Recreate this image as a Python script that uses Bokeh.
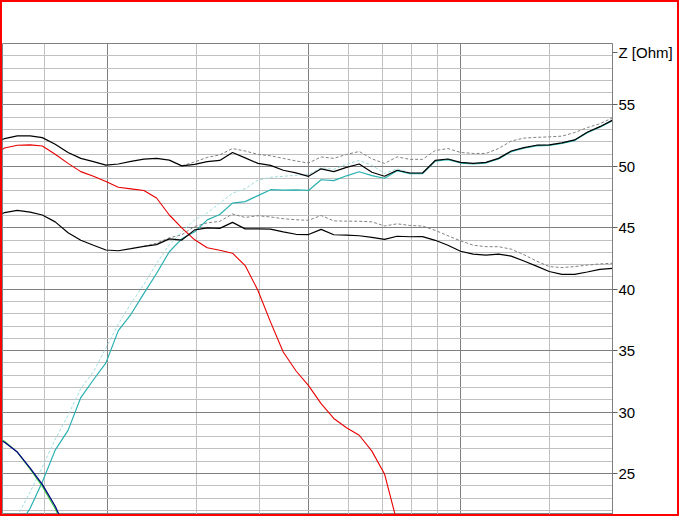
from bokeh.plotting import figure
from bokeh.layouts import column
from bokeh.models import Range1d, FixedTicker, SingleIntervalTicker
from bokeh.embed import file_html
from bokeh.resources import INLINE

nan = float("nan")

# frequency points (Hz, 1/12 octave) - no x axis shown in the reference
freq = [236, 250, 265, 281, 297, 315, 334, 354, 375, 397,
        420, 445, 472, 500, 530, 561, 595, 630, 667, 707,
        749, 794, 841, 891, 944, 1000, 1059, 1122, 1189, 1260,
        1335, 1414, 1498, 1587, 1682, 1782, 1888, 2000, 2119, 2245,
        2378, 2520, 2670, 2828, 2997, 3175, 3364, 3564, 3775, 4000]

black_hi = [51.72, 52.26, 52.48, 52.48, 52.34, 51.80, 51.13, 50.65, 50.38, 50.10,
            50.19, 50.40, 50.59, 50.65, 50.51, 50.04, 50.16, 50.38, 50.48, 51.13,
            50.69, 50.24, 50.08, 49.68, 49.47, 49.19, 49.80, 49.57, 49.92, 50.19,
            49.52, 49.19, 49.68, 49.46, 49.46, 50.48, 50.60, 50.32, 50.24, 50.32,
            50.65, 51.25, 51.53, 51.72, 51.75, 51.91, 52.15, 52.78, 53.23, 53.76]

gray_hi = [nan, nan, nan, nan, nan, nan, nan, nan, nan, nan,
           nan, nan, nan, nan, nan, 50.04, 50.36, 50.73, 50.93, 51.45,
           51.25, 50.97, 50.86, 50.65, 50.44, 50.27, 50.77, 50.65, 50.97, 51.21,
           50.61, 50.24, 50.77, 50.57, 50.57, 51.29, 51.45, 51.13, 51.05, 51.05,
           51.45, 52.06, 52.30, 52.36, 52.40, 52.46, 52.75, 53.15, 53.47, 53.95]

teal = [nan, nan, 20.50, 22.17, 24.31, 26.90, 28.51, 31.18, 32.63, 34.00,
        36.63, 37.96, 39.66, 41.28, 43.05, 44.10, 44.67, 45.64, 46.08, 47.01,
        47.13, 47.62, 48.10, 48.06, 48.09, 48.04, 48.91, 48.84, 49.23, 49.56,
        49.25, 49.03, 49.64, 49.41, 49.41, 50.43, 50.55, 50.27, 50.19, 50.27,
        50.60, 51.20, 51.48, 51.67, 51.70, 51.86, 52.10, 52.73, 53.18, 53.71]

teal_dash = [nan, nan, 21.50, 23.50, 25.53, 27.79, 29.73, 31.91, 33.28, 35.22,
             37.16, 38.85, 40.39, 42.08, 43.62, 44.67, 45.64, 46.20, 47.00, 47.82,
             48.18, 48.87, 49.11, 49.19, 49.27, 49.35, 49.88, 49.76, 50.16, 50.48,
             50.08, 49.43, 49.80, 49.46, 49.46, 50.48, 50.60, 50.32, 50.24, 50.32,
             50.65, 51.25, 51.53, 51.72, 51.75, 51.91, 52.15, 52.78, 53.23, 53.76]

red = [50.85, 51.49, 51.72, 51.75, 51.66, 50.99, 50.24, 49.57, 49.19, 48.76,
       48.30, 48.17, 48.04, 47.42, 46.04, 44.99, 44.02, 43.38, 43.17, 42.93,
       41.92, 39.90, 37.32, 34.89, 33.36, 32.15, 30.69, 29.48, 28.72, 28.11,
       26.82, 24.96, 21.00, nan, nan, nan, nan, nan, nan, nan,
       nan, nan, nan, nan, nan, nan, nan, nan, nan, nan]

black_lo = [45.68, 46.24, 46.42, 46.28, 46.04, 45.48, 44.59, 43.98, 43.58, 43.19,
            43.13, 43.30, 43.48, 43.63, 44.10, 44.00, 44.83, 44.99, 44.95, 45.44,
            44.91, 44.91, 44.89, 44.67, 44.47, 44.45, 44.87, 44.43, 44.40, 44.35,
            44.22, 44.05, 44.31, 44.27, 44.28, 43.98, 43.58, 43.09, 42.85, 42.77,
            42.85, 42.69, 42.29, 41.88, 41.44, 41.20, 41.20, 41.40, 41.62, 41.70]

gray_lo = [nan, nan, nan, nan, nan, nan, nan, nan, nan, nan,
           nan, nan, 43.48, 43.74, 44.18, 44.43, 45.11, 45.40, 45.52, 46.12,
           45.84, 45.98, 45.88, 45.74, 45.65, 45.61, 46.00, 45.56, 45.54, 45.53,
           45.48, 45.15, 45.32, 45.19, 45.14, 44.79, 44.35, 43.94, 43.58, 43.46,
           43.46, 43.26, 42.81, 42.29, 41.84, 41.76, 41.84, 41.96, 42.06, 42.11]

green = [28.19, 27.62, 26.74, 25.36, 23.95, 22.13, 19.87] + [nan] * 43
navy = [28.07, 27.54, 26.74, 25.44, 24.11, 22.33, 20.03] + [nan] * 43

y_ticks = [25, 30, 35, 40, 45, 50, 55]
y_title = "Z [Ohm]"
y_title_pos = 59.27
x_major_grid = [400, 1000, 2000]
x_minor_grid = [300, 600, 800, 1200, 1400, 1600, 1800, 3000]

p = figure(width=675, height=512, output_backend="svg", toolbar_location=None,
           x_axis_type="log", x_axis_location=None, y_axis_location="right",
           x_range=Range1d(247.7, 3999), y_range=Range1d(21.66, 60),
           min_border_left=0, min_border_bottom=0, min_border_top=41,
           min_border_right=65)
p.background_fill_color = "white"
p.border_fill_color = "white"
p.outline_line_color = "#808080"

p.xgrid.ticker = FixedTicker(ticks=x_major_grid, minor_ticks=x_minor_grid)
p.xgrid.grid_line_color = "#808080"
p.xgrid.minor_grid_line_color = "#c0c0c0"
p.ygrid.ticker = SingleIntervalTicker(interval=5, num_minor_ticks=5)
p.ygrid.grid_line_color = "#808080"
p.ygrid.minor_grid_line_color = "#c0c0c0"

ax = p.yaxis[0]
ax.ticker = FixedTicker(ticks=y_ticks + [y_title_pos])
ax.major_label_overrides = {y_title_pos: y_title}
ax.axis_line_color = "#808080"
ax.major_tick_line_color = "#606060"
ax.major_tick_in = 0
ax.major_tick_out = 5
ax.minor_tick_line_color = None
ax.major_label_standoff = 1
ax.major_label_text_font = "Liberation Sans"
ax.major_label_text_font_size = "15px"
ax.major_label_text_color = "#000000"

p.line(freq, gray_hi, color="#808080", line_width=1, line_dash="3 2")
p.line(freq, gray_lo, color="#808080", line_width=1, line_dash="3 2")
p.line(freq, teal_dash, color="#a0dcdc", line_width=1, line_dash="3 2")
p.line(freq, teal, color="#2ab0b0", line_width=1.2)
p.line(freq, red, color="#e80000", line_width=1.1)
p.line(freq, green, color="#40d040", line_width=1.2)
p.line(freq, navy, color="#000080", line_width=1.3)
p.line(freq, black_lo, color="#000000", line_width=1.2)
p.line(freq, black_hi, color="#000000", line_width=1.2)

page = column(p, styles={"border": "2px solid #ff0000"})

open("out.html", "w").write(file_html(page, INLINE))
